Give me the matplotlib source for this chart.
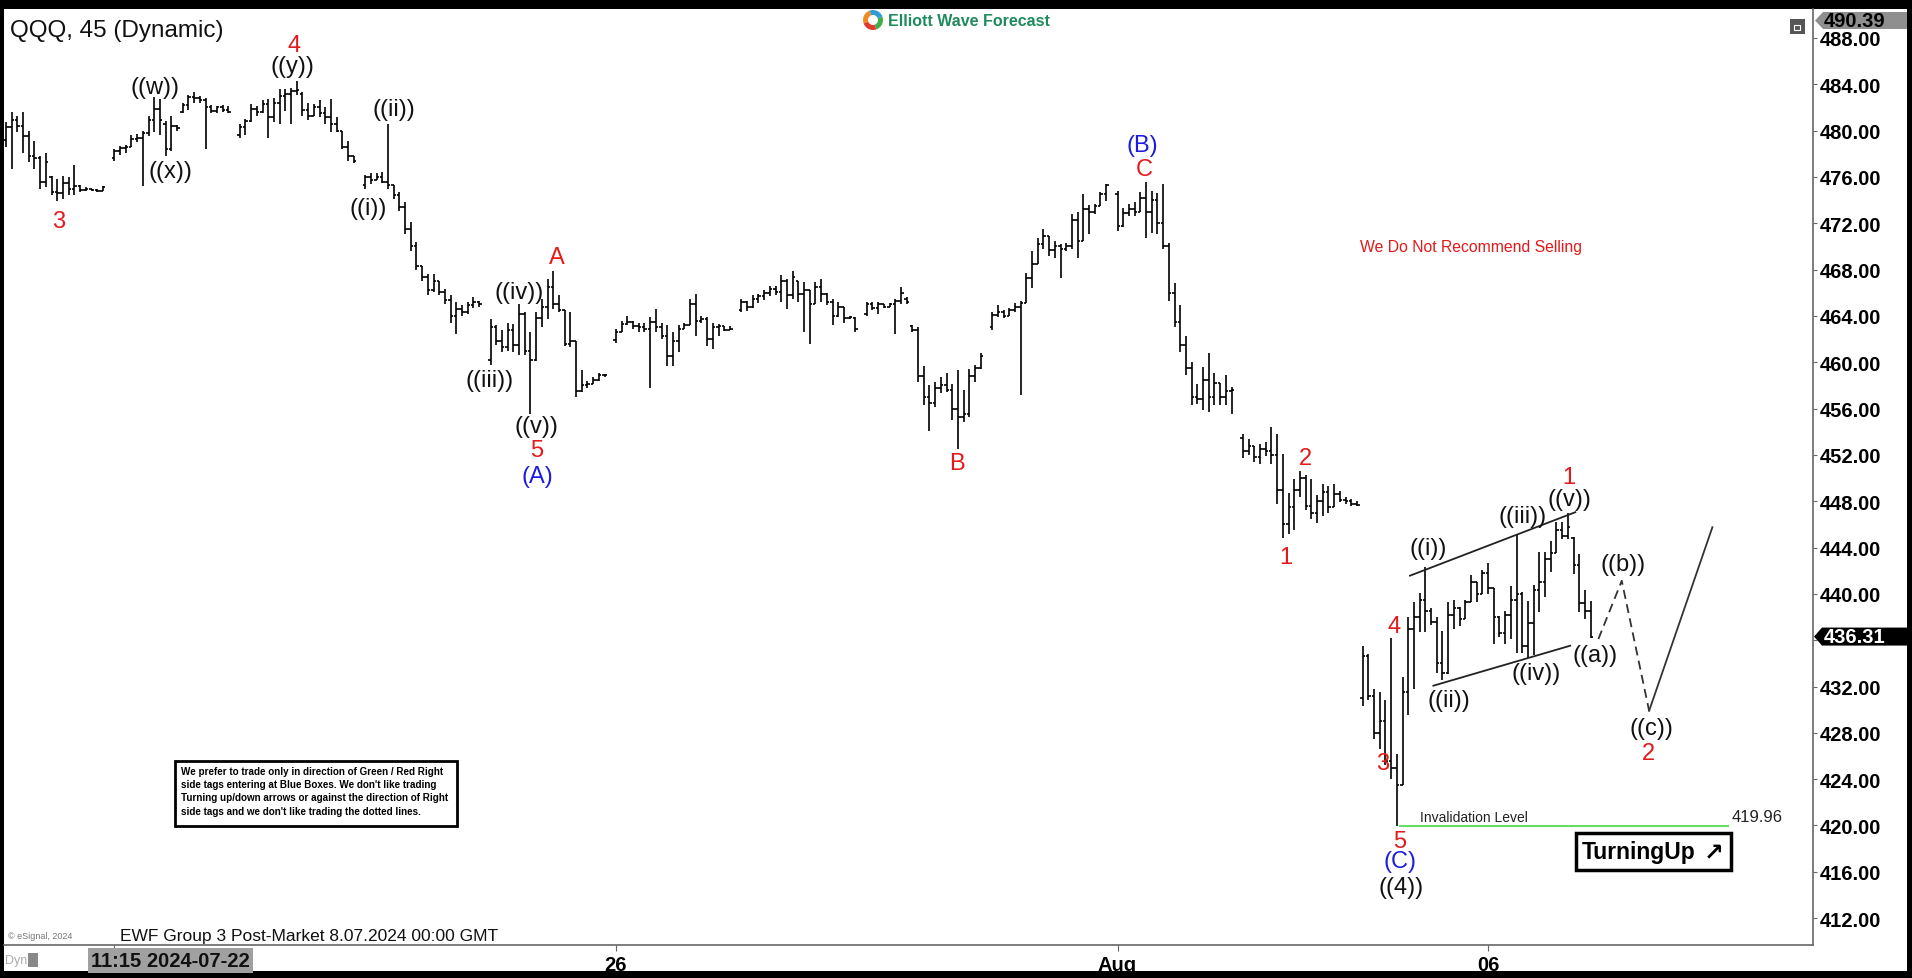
import numpy as np
import matplotlib.pyplot as plt
from matplotlib.patches import Rectangle, Polygon, Wedge
from matplotlib.transforms import IdentityTransform

plt.rcParams['font.family'] = ['Liberation Sans', 'DejaVu Sans']
NARROW = ['Liberation Sans Narrow', 'Liberation Sans', 'DejaVu Sans']

# 45-minute QQQ bars, one slot per bar; None marks a session break
bar_open = [
    479.2, 480.3, 480.9, 480.4, 479.5, 477.8, 477.6, 475.6, 476.0, 474.7, 474.6, 475.5, 475.0, 475.2, 474.9, 475.0, 474.9, 474.8, None,
    477.6, 478.2, 478.5, 478.6, 479.3, 479.4, 479.8, 480.9, 481.9, 480.6, 478.4, 480.4, 481.6, 482.2, 482.9, 482.8, 482.6, 482.0, 481.7, 482.0, 481.8, None,
    479.6, 480.3, 480.8, 481.9, 481.6, 482.3, 481.2, 482.4, 483.0, 483.2, 483.4, 483.2, 481.8, 481.3, 482.0, 481.5, 481.2, 480.6, 480.0, 478.6, 477.8, None,
    475.3, 476.0, 475.7, 476.0, 475.6, 475.3, 474.4, 473.4, 471.5, 470.0, 468.3, 467.4, 466.2, 467.0, 466.1, 465.4, 464.0, 464.6, 464.3, 464.9, 465.2, None,
    460.2, 463.0, 461.8, 461.3, 462.8, 461.5, 464.2, 461.0, 460.2, 463.8, 464.8, 466.5, 465.0, 464.5, 461.6, 461.8, 457.5, 458.0, 458.1, 458.5, 458.9, None,
    461.9, 462.6, 463.3, 463.5, 463.1, 463.0, 462.9, 463.5, 463.0, 462.3, 460.5, 461.8, 462.9, 463.2, 465.0, 463.6, 463.7, 462.0, 463.0, 463.1, 462.8, None,
    464.5, 465.2, 464.8, 465.5, 465.7, 466.0, 466.3, 466.1, 467.0, 465.8, 467.0, 465.9, 466.2, 465.0, 466.5, 465.9, 465.2, 464.0, 464.8, 463.8, 463.8, None,
    464.2, 465.0, 464.7, 465.0, 464.8, 465.0, 465.3, 465.5, 463.1, 462.8, 458.8, 457.0, 456.5, 457.8, 458.0, 457.6, 456.0, 455.3, 455.5, 458.8, 459.5, None,
    463.0, 464.1, 464.3, 464.0, 464.5, 464.8, 465.1, 467.3, 468.5, 470.2, 470.9, 469.7, 470.0, 469.8, 470.0, 472.3, 470.5, 473.2, 473.0, 473.5, 474.5, None,
    474.5, 471.8, 472.9, 473.2, 473.0, 474.2, 473.0, 474.0, 472.0, 470.0, 466.0, 463.5, 461.5, 459.5, 457.0, 456.8, 458.5, 457.0, 458.2, 457.0, 457.5, None,
    453.5, 452.3, 452.8, 451.8, 452.5, 452.3, 452.0, 449.0, 446.0, 447.5, 449.0, 450.0, 447.6, 447.0, 448.0, 448.8, 447.5, 448.6, 448.1, 448.0, 447.8,
    431.0, 434.6, 431.2, 428.0, 429.0, 425.6, 425.0, 423.5, 431.5, 437.0, 438.0, 439.5, 438.5, 437.6, 434.0, 433.2, 438.2, 438.8, 437.8, 439.3, 441.0,
    440.0, 441.8, 440.5, 438.0, 436.6, 438.2, 439.5, 440.0, 435.5, 437.5, 440.3, 441.0, 443.0, 443.5, 445.5, 445.0, 444.8, 442.5, 439.2, 438.5,
]
bar_high = [
    480.7, 481.6, 481.3, 481.6, 480.0, 479.1, 477.8, 478.1, 476.1, 475.8, 476.1, 476.0, 477.0, 475.3, 475.1, 475.0, 475.0, 475.2, None,
    478.4, 478.7, 478.8, 479.6, 479.7, 480.0, 481.3, 482.9, 482.7, 480.8, 481.3, 480.5, 482.4, 483.1, 483.3, 483.0, 482.8, 482.2, 482.1, 482.2, 482.1, None,
    480.6, 481.0, 482.3, 482.1, 482.6, 482.7, 482.8, 483.6, 483.6, 483.7, 484.3, 483.3, 482.4, 482.3, 482.6, 482.0, 482.7, 481.2, 480.0, 479.1, 477.8, None,
    476.2, 476.3, 476.3, 476.4, 480.6, 475.3, 474.7, 473.8, 472.1, 470.4, 468.3, 467.6, 467.6, 467.0, 466.3, 465.8, 465.2, 464.9, 465.2, 465.6, 465.3, None,
    463.7, 463.2, 462.8, 463.4, 463.3, 465.0, 464.3, 462.6, 464.3, 465.5, 467.2, 467.9, 465.8, 464.5, 464.3, 461.8, 459.3, 458.4, 458.7, 459.1, 459.0, None,
    462.9, 463.6, 464.0, 463.6, 463.4, 463.4, 463.9, 464.6, 463.4, 463.2, 462.6, 463.2, 463.4, 465.5, 465.9, 464.0, 463.9, 463.4, 463.3, 463.1, 463.1, None,
    465.5, 465.3, 465.8, 465.9, 466.2, 466.6, 466.6, 467.5, 467.2, 467.9, 467.0, 466.9, 466.2, 466.9, 467.2, 466.0, 465.5, 465.2, 464.8, 464.0, 463.9, None,
    465.2, 465.2, 465.2, 465.0, 465.1, 465.5, 466.5, 465.6, 463.2, 463.0, 459.7, 458.0, 458.3, 458.7, 459.1, 458.1, 459.3, 457.6, 459.4, 459.8, 460.8, None,
    464.3, 464.9, 464.5, 464.7, 465.1, 465.3, 467.7, 469.6, 470.7, 471.5, 470.9, 470.5, 470.2, 470.3, 472.8, 473.0, 474.5, 473.6, 473.7, 474.7, 475.4, None,
    474.8, 473.3, 473.7, 473.8, 474.7, 475.6, 474.8, 474.6, 475.4, 470.3, 466.8, 464.9, 462.3, 460.0, 458.1, 459.6, 460.8, 459.1, 458.2, 458.9, 457.9, None,
    453.8, 453.4, 452.8, 452.9, 453.1, 454.4, 453.8, 452.1, 448.7, 449.9, 450.6, 450.3, 449.9, 448.5, 449.5, 449.3, 449.5, 448.9, 448.4, 448.2, 448.0,
    435.5, 434.8, 431.8, 431.5, 430.8, 436.2, 426.2, 432.8, 438.0, 439.3, 440.1, 442.3, 438.8, 438.0, 436.8, 439.3, 439.5, 438.9, 439.5, 441.6, 441.0,
    442.1, 442.7, 440.5, 438.1, 438.5, 440.7, 445.2, 440.2, 439.4, 440.8, 443.6, 443.6, 444.6, 446.2, 446.2, 447.0, 444.9, 443.4, 440.3, 439.4,
]
bar_low = [
    478.6, 476.7, 479.9, 478.1, 477.3, 476.7, 475.0, 475.1, 474.4, 473.9, 474.1, 474.4, 474.4, 474.7, 474.8, 474.8, 474.7, 474.8, None,
    477.4, 477.9, 478.1, 478.6, 479.0, 475.2, 479.5, 479.9, 479.6, 477.8, 478.2, 480.0, 481.5, 481.8, 482.4, 482.4, 478.4, 481.5, 481.5, 481.6, 481.5, None,
    479.4, 479.6, 480.7, 481.3, 481.5, 479.4, 480.7, 480.6, 481.7, 480.6, 483.1, 481.3, 480.9, 481.3, 481.2, 480.6, 479.9, 479.9, 478.4, 477.4, 477.2, None,
    475.0, 475.4, 475.7, 475.5, 475.0, 474.1, 473.1, 471.1, 469.6, 468.0, 467.0, 465.8, 466.1, 465.8, 465.0, 463.4, 462.4, 464.0, 464.2, 464.7, 464.8, None,
    459.8, 461.5, 460.9, 461.0, 460.9, 460.6, 460.6, 455.5, 460.1, 463.0, 463.7, 464.6, 464.3, 461.4, 461.3, 457.0, 457.4, 457.8, 458.1, 458.4, 458.7, None,
    461.7, 462.6, 463.2, 462.9, 462.6, 462.6, 457.8, 462.6, 462.0, 459.7, 459.7, 460.9, 462.9, 463.2, 462.3, 463.4, 461.4, 461.1, 462.3, 462.7, 462.8, None,
    464.3, 464.4, 464.7, 465.1, 465.4, 465.7, 465.8, 465.2, 464.6, 465.5, 465.2, 462.6, 461.6, 465.0, 465.2, 464.9, 463.2, 463.9, 463.4, 463.7, 462.6, None,
    464.0, 464.5, 464.2, 464.7, 464.8, 462.4, 465.0, 465.0, 462.6, 458.3, 456.3, 454.1, 456.1, 457.3, 457.4, 455.0, 452.5, 454.8, 455.3, 458.3, 459.4, None,
    462.8, 463.9, 463.8, 464.0, 464.3, 457.2, 465.1, 466.4, 468.5, 469.8, 469.2, 469.0, 467.3, 469.6, 469.8, 469.0, 470.5, 471.1, 472.8, 473.5, 473.9, None,
    471.3, 471.7, 472.6, 472.6, 473.0, 470.7, 471.2, 471.1, 469.8, 465.3, 463.0, 460.9, 458.9, 456.3, 456.4, 455.9, 455.7, 456.3, 456.3, 456.3, 455.5, None,
    451.7, 452.0, 451.4, 451.2, 451.9, 451.2, 447.8, 444.8, 445.2, 445.5, 448.4, 447.2, 446.5, 446.1, 446.7, 447.0, 447.5, 447.9, 447.8, 447.6, 447.6,
    430.3, 430.8, 427.5, 426.6, 425.2, 424.0, 419.96, 423.5, 429.5, 431.8, 436.7, 436.7, 437.3, 433.2, 432.6, 433.1, 437.0, 437.2, 437.8, 439.3, 439.3,
    440.0, 440.0, 435.7, 436.3, 435.7, 436.1, 434.9, 434.9, 434.5, 434.7, 438.4, 439.7, 441.9, 443.5, 444.7, 444.7, 441.7, 438.4, 437.8, 436.2,
]
bar_close = [
    480.3, 480.9, 480.4, 479.5, 477.8, 477.6, 475.6, 477.3, 474.7, 474.6, 475.5, 475.0, 475.2, 474.9, 475.0, 474.9, 474.8, 475.1, None,
    478.2, 478.5, 478.6, 479.3, 479.4, 479.8, 480.9, 481.9, 480.9, 478.4, 480.4, 480.2, 482.2, 482.9, 482.8, 482.6, 482.0, 481.7, 482.0, 481.8, 481.6, None,
    480.3, 480.8, 481.9, 481.6, 482.3, 481.2, 482.4, 483.0, 483.2, 483.4, 483.5, 481.8, 481.3, 482.0, 481.5, 481.2, 480.6, 480.0, 478.6, 477.8, 477.4, None,
    476.0, 475.7, 476.0, 475.6, 475.3, 474.4, 473.4, 471.5, 470.0, 468.3, 467.4, 466.2, 467.0, 466.1, 465.4, 464.0, 464.6, 464.3, 464.9, 465.2, 465.0, None,
    463.0, 461.8, 461.3, 462.8, 461.5, 464.2, 461.0, 460.2, 463.8, 464.8, 466.5, 465.0, 464.5, 461.6, 461.8, 457.5, 458.0, 458.1, 458.5, 458.9, 458.9, None,
    462.6, 463.3, 463.5, 463.1, 463.0, 462.9, 463.5, 463.0, 462.3, 460.5, 461.8, 462.9, 463.2, 465.0, 463.6, 463.7, 462.0, 463.0, 463.1, 462.8, 462.9, None,
    465.2, 464.8, 465.5, 465.7, 466.0, 466.3, 466.1, 467.0, 465.8, 467.4, 465.9, 466.2, 465.0, 466.5, 465.9, 465.2, 464.0, 464.8, 463.8, 463.9, 462.9, None,
    465.0, 464.7, 465.0, 464.8, 465.0, 465.3, 466.0, 465.2, 462.8, 458.8, 457.0, 456.5, 457.8, 458.0, 457.6, 456.0, 455.3, 455.5, 458.8, 459.5, 460.5, None,
    464.1, 464.3, 464.0, 464.5, 464.8, 465.1, 467.3, 468.5, 470.2, 470.9, 469.7, 470.0, 469.8, 470.0, 472.3, 470.5, 473.2, 473.0, 473.5, 474.5, 475.3, None,
    471.8, 472.9, 473.2, 473.0, 474.2, 473.0, 474.0, 472.0, 470.0, 466.0, 463.5, 461.5, 459.5, 457.0, 456.8, 458.5, 457.0, 458.2, 457.0, 457.5, 457.6, None,
    452.3, 452.8, 451.8, 452.5, 452.3, 452.0, 449.0, 446.0, 447.5, 449.0, 450.0, 447.6, 447.0, 448.0, 448.8, 447.5, 448.6, 448.1, 448.0, 447.8, 447.7,
    434.6, 431.2, 428.0, 429.0, 425.6, 425.0, 423.5, 431.5, 437.0, 438.0, 439.5, 438.5, 437.6, 434.0, 433.2, 438.2, 438.8, 437.8, 439.3, 441.0, 440.0,
    441.8, 440.5, 438.0, 436.6, 438.2, 439.5, 440.0, 435.5, 437.5, 440.3, 441.0, 443.0, 443.5, 445.5, 445.0, 445.8, 442.5, 439.2, 438.5, 436.31,
]

# date ticks (bar slot of the first bar of the session)
tick_slots = [19, 107, 195, 260]
tick_labels = ['', '26', 'Aug', '06']

# Elliott wave labels: text, bar slot, price, colour
wave_text = ['3', '((w))', '((x))', '4', '((y))', '((ii))', '((i))', '((iv))', '((iii))', 'A',
             '((v))', '5', '(A)', 'B', '(B)', 'C', '1', '2',
             '((i))', '((ii))', '((iii))', '((iv))', '((v))', '1', '((a))', '((b))', '((c))', '2',
             '4', '3', '5', '(C)', '((4))']
wave_slot = [9.2, 26.1, 28.9, 50.5, 50.3, 68.1, 63.6, 90.1, 84.9, 96.7,
             93.1, 93.1, 93.3, 166.9, 199.4, 199.6, 224.6, 228.0,
             249.5, 253.1, 266.1, 268.5, 274.3, 274.1, 278.8, 283.7, 288.6, 288.2,
             243.5, 241.5, 244.5, 244.5, 244.7]
wave_price = [472.2, 483.8, 476.5, 487.4, 485.6, 481.9, 473.3, 466.1, 458.5, 469.1,
              454.5, 452.4, 450.2, 451.3, 478.8, 476.7, 443.2, 451.7,
              444.0, 430.8, 446.7, 433.2, 448.2, 450.1, 434.7, 442.6, 428.4, 426.3,
              437.2, 425.4, 418.7, 416.9, 414.7]
wave_color = ['r', 'k', 'k', 'r', 'k', 'k', 'k', 'k', 'k', 'r',
              'k', 'r', 'b', 'r', 'b', 'r', 'r', 'r',
              'k', 'k', 'k', 'k', 'k', 'r', 'k', 'k', 'k', 'r',
              'r', 'r', 'r', 'b', 'k']

# diagonal channel and projected path
upper_slot, upper_price = [246.3, 275.3], [441.57, 447.05]
lower_slot, lower_price = [250.4, 274.4], [432.07, 435.52]
proj_slot = [279.35, 283.45, 288.25, 299.35]
proj_price = [436.1, 441.13, 429.9, 445.75]

invalidation = 419.96
last_price = 436.31
top_price = 490.39

W, H = 1912, 979
RED, BLUE, BLACK = '#e3191b', '#1c1ce0', '#111111'
colmap = {'r': RED, 'b': BLUE, 'k': BLACK}


def fx(x):
    return x / W


def fy(y):
    return 1 - y / H


def main():
    fig = plt.figure(figsize=(W / 100, H / 100), dpi=100, facecolor='black')
    fig.patches.append(Rectangle((fx(4), fy(972)), fx(1907) - fx(4), fy(10) - fy(972),
                                 transform=fig.transFigure, facecolor='white', edgecolor='none', zorder=-10))

    ax = fig.add_axes([fx(4), fy(946), fx(1813) - fx(4), fy(10) - fy(946)])
    ax.set_zorder(0)
    ax.set_facecolor('white')
    ax.set_xlim(-0.35, 317.0)
    ax.set_ylim(409.68, 490.5)

    o = np.array(bar_open, dtype=float)
    h = np.array(bar_high, dtype=float)
    lo = np.array(bar_low, dtype=float)
    c = np.array(bar_close, dtype=float)
    x = np.arange(len(o))
    ok = ~np.isnan(h)
    ax.vlines(x[ok], lo[ok], h[ok], color='black', lw=1.2)
    ax.hlines(o[ok], x[ok] - 0.45, x[ok], color='black', lw=1.2)
    ax.hlines(c[ok], x[ok], x[ok] + 0.45, color='black', lw=1.2)

    # channel and projection
    ax.plot(upper_slot, upper_price, color='#222222', lw=1.3)
    ax.plot(lower_slot, lower_price, color='#222222', lw=1.3)
    ax.plot(proj_slot[:3], proj_price[:3], color='#333333', lw=1.3, ls=(0, (5, 3)))
    ax.plot(proj_slot[2:], proj_price[2:], color='#333333', lw=1.3)

    # invalidation level
    ax.hlines(invalidation, 244.3, 302.3, color='#66dd66', lw=1.5)
    ax.text(248.0, invalidation + 0.15, 'Invalidation Level', fontsize=10, va='bottom', ha='left', color='#222222')
    ax.text(302.8, invalidation + 0.15, f'{invalidation:.2f}', fontsize=12, va='bottom', ha='left', color='#222222')

    for t, s, p, col in zip(wave_text, wave_slot, wave_price, wave_color):
        ax.text(s, p, t, ha='center', va='center', fontsize=17, color=colmap[col])

    ax.text(257.0, 470.0, 'We Do Not Recommend Selling', family=NARROW, fontsize=11.3,
            color=RED, ha='center', va='center')

    # axes styling
    for side in ['top', 'left']:
        ax.spines[side].set_visible(False)
    for side in ['right', 'bottom']:
        ax.spines[side].set_color('#666666')
        ax.spines[side].set_linewidth(1.2)
    ax.yaxis.tick_right()
    yt = np.arange(412, 489, 4)
    ax.set_yticks(yt)
    # 436.00 sits under the last-price tag
    ax.set_yticklabels(['' if v == 436 else f'{v:.2f}' for v in yt])
    ax.tick_params(axis='y', length=3, color='#666666', pad=2, labelsize=14.5)
    ax.set_xticks(tick_slots)
    ax.set_xticklabels(tick_labels)
    ax.tick_params(axis='x', length=4, color='#666666', pad=3, labelsize=14.5)
    for lab in ax.get_yticklabels() + ax.get_xticklabels():
        lab.set_family(NARROW)
        lab.set_fontweight('bold')

    # price tags on the axis
    fig.patches.append(Polygon([(fx(1815), fy(21.5)), (fx(1823), fy(13)), (fx(1907), fy(13)),
                                (fx(1907), fy(30)), (fx(1823), fy(30))],
                               transform=fig.transFigure, facecolor='#8f8f8f', edgecolor='none'))
    fig.text(fx(1824), fy(21.5), f'{top_price:.2f}', family=NARROW, fontsize=14.5, fontweight='bold',
             color='black', va='center', ha='left')
    ly = 39 + (488 - last_price) * 11.58
    fig.patches.append(Polygon([(fx(1814), fy(ly)), (fx(1822), fy(ly - 9)), (fx(1907), fy(ly - 9)),
                                (fx(1907), fy(ly + 9)), (fx(1822), fy(ly + 9))],
                               transform=fig.transFigure, facecolor='black', edgecolor='none'))
    fig.text(fx(1824), fy(ly), f'{last_price:.2f}', family=NARROW, fontsize=14.5, fontweight='bold',
             color='white', va='center', ha='left')

    # header
    fig.text(fx(10), fy(31), 'QQQ, 45 (Dynamic)', fontsize=17.5, color=BLACK, va='center', ha='left')
    cx, cy, r = 873, 21, 10
    for a0, a1, col in [(20, 110, '#2e9bd6'), (110, 200, '#f08a24'), (200, 290, '#e23b2e'), (290, 380, '#3fae49')]:
        fig.patches.append(Wedge((cx, H - cy), r, a0, a1, width=5,
                                 transform=IdentityTransform(), facecolor=col, edgecolor='none'))
    fig.text(fx(888), fy(21), 'Elliott Wave Forecast', fontsize=11.5, fontweight='bold',
             color='#1f8a5c', va='center', ha='left')
    fig.patches.append(Rectangle((fx(1790), fy(35)), 15 / W, 15 / H, transform=fig.transFigure,
                                 facecolor='#555555', edgecolor='none'))
    fig.patches.append(Rectangle((fx(1794), fy(31)), 6 / W, 5 / H, transform=fig.transFigure,
                                 facecolor='none', edgecolor='white', lw=0.8))

    # note box
    fig.patches.append(Rectangle((fx(175), fy(827)), fx(457) - fx(175), fy(762) - fy(827),
                                 transform=fig.transFigure, facecolor='white', edgecolor='black', lw=2))
    note = ("We prefer to trade only in direction of Green / Red Right\n"
            "side tags entering at Blue Boxes. We don't like trading\n"
            "Turning up/down arrows or against the direction of Right\n"
            "side tags and we don't like trading the dotted lines.")
    fig.text(fx(181), fy(767), note, family=NARROW, fontsize=7.1, fontweight='bold',
             va='top', ha='left', linespacing=1.4, color='black')

    # turning up box
    fig.patches.append(Rectangle((fx(1576), fy(871)), fx(1731) - fx(1576), fy(834) - fy(871),
                                 transform=fig.transFigure, facecolor='white', edgecolor='black', lw=2.5))
    fig.text(fx(1582), fy(853), 'TurningUp', family=NARROW, fontsize=16.5, fontweight='bold',
             va='center', ha='left', color='black')
    fig.text(fx(1714), fy(853), '\u2197', family=['DejaVu Sans'], fontsize=17, fontweight='bold',
             va='center', ha='center', color='black')

    # footer
    fig.text(fx(8), fy(937), '\u00a9 eSignal, 2024', fontsize=6.5, color='#777777', va='center', ha='left')
    fig.text(fx(120), fy(937), 'EWF Group 3 Post-Market 8.07.2024 00:00 GMT', fontsize=12.5,
             color=BLACK, va='center', ha='left')
    fig.text(fx(5), fy(961), 'Dyn', fontsize=9, color='#aaaaaa', va='center', ha='left')
    fig.patches.append(Rectangle((fx(28), fy(968)), 10 / W, 14 / H, transform=fig.transFigure,
                                 facecolor='#888888', edgecolor='none'))
    fig.text(fx(91), fy(961.5), '11:15 2024-07-22', family=NARROW, fontsize=14.5, fontweight='bold',
             color=BLACK, va='center', ha='left',
             bbox=dict(boxstyle='square,pad=0.15', facecolor='#a0a0a0', edgecolor='none'))

    fig.savefig('out.png', dpi=100, facecolor='black')


if __name__ == "__main__":
    main()
